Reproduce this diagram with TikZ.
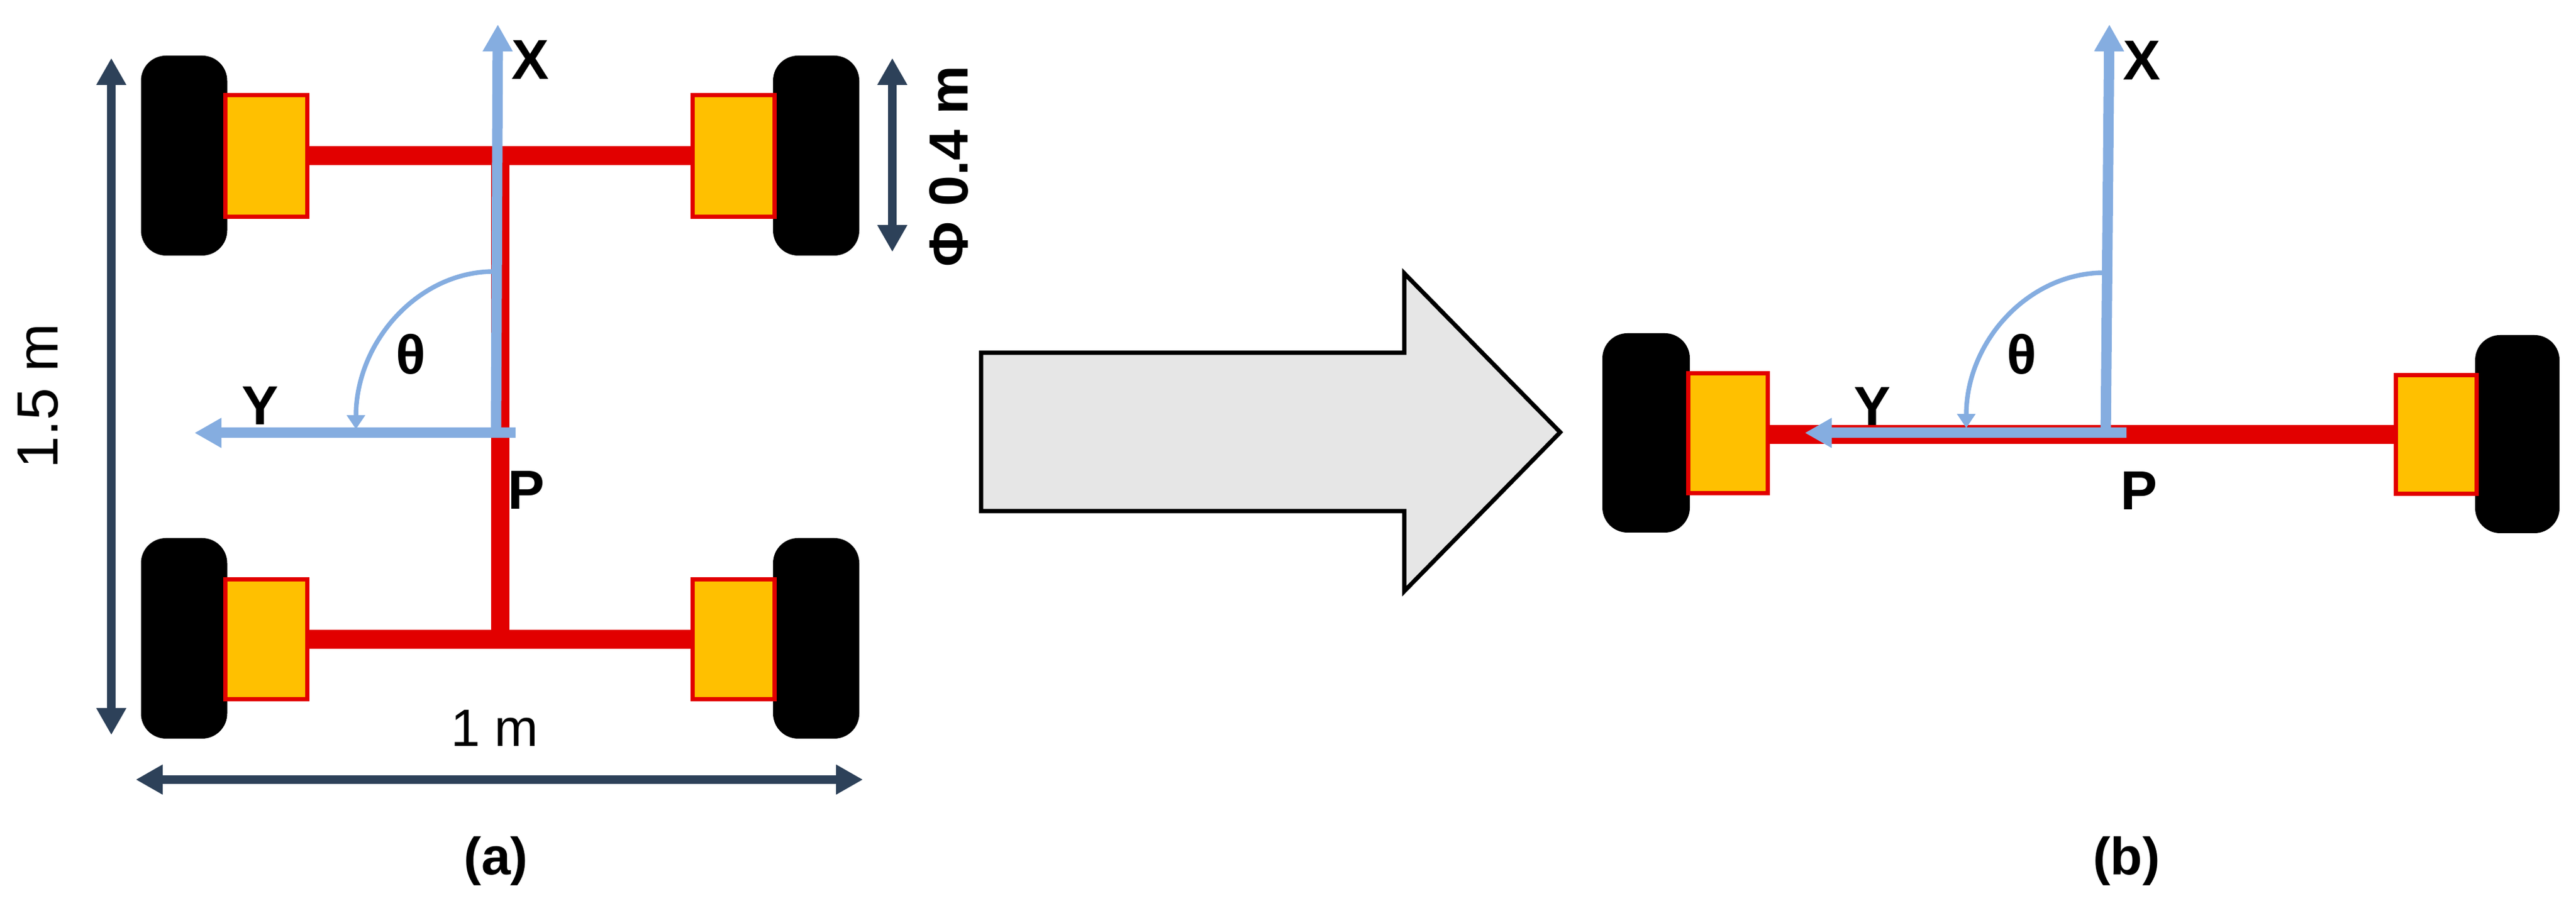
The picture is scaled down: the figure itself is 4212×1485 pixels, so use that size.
\documentclass[tikz,border=0pt]{standalone}
\usepackage{fontspec}
\setmainfont{Liberation Sans}
\usetikzlibrary{arrows.meta}
\definecolor{axlered}{HTML}{E20000}
\definecolor{motorgold}{HTML}{FFC000}
\definecolor{frameblue}{HTML}{85ADE0}
\definecolor{dimslate}{HTML}{2D4159}
\definecolor{biggrey}{HTML}{E6E6E6}
\tikzset{
  tyre/.style={fill=black,draw=none,rounded corners=4.1pt,inner sep=0pt,outer sep=0pt,minimum width=#1},
  tyre/.default=14.1pt,
  motor/.style={fill=motorgold,draw=axlered,line width=.7pt,inner sep=0pt,outer sep=0pt,minimum width=#1},
  motor/.default=13.4pt,
  axle/.style={draw=axlered,line width=3.1pt},
  stem/.style={draw=axlered,line width=3pt},
  frameaxis/.style={draw=frameblue,line width=1.7pt,-{Triangle[length=4.4pt,width=4.6pt]}},
  anglearc/.style={draw=frameblue,line width=.75pt,-{Triangle[length=2.3pt,width=2.9pt]}},
  dimline/.style={draw=dimslate,line width=1.45pt,{Triangle[length=4.4pt,width=4.6pt]}-{Triangle[length=4.4pt,width=4.6pt]}},
  boldlabel/.style={inner sep=0pt,outer sep=0pt,anchor=base,font=\fontsize{9}{10}\selectfont\bfseries},
  caption/.style={inner sep=0pt,outer sep=0pt,anchor=base,font=\fontsize{8.6}{10}\selectfont\bfseries},
  plainlabel/.style={inner sep=0pt,outer sep=0pt,anchor=base,font=\fontsize{9.5}{10}\selectfont},
  bigarrow/.style={draw=black,line width=.7pt,fill=biggrey,miter limit=10}
}
\begin{document}
\begin{tikzpicture}[x=0.1pt,y=-0.1pt]
\useasboundingbox (0,0) rectangle (4212,1485);

% ---------- panel (a) ----------
\node[tyre,minimum height=32.7pt] (wTL) at (301,254.5) {};
\node[tyre,minimum height=32.7pt] (wTR) at (1334.5,254.5) {};
\node[tyre,minimum height=32.8pt] (wBL) at (301,1044) {};
\node[tyre,minimum height=32.8pt] (wBR) at (1334.5,1044) {};
\node[motor,minimum height=19.9pt] (mTL) at (435.5,255) {};
\node[motor,minimum height=19.9pt] (mTR) at (1199.5,255) {};
\node[motor,minimum height=19.6pt] (mBL) at (435.5,1045.5) {};
\node[motor,minimum height=19.6pt] (mBR) at (1199.5,1045.5) {};
\draw[axle] (mTL.east) -- (mTR.west);
\draw[axle] (mBL.east) -- (mBR.west);
\coordinate (stemTop) at (818,254);
\coordinate (stemBot) at (818,1044);
\draw[stem] (stemTop) -- (stemBot);

\coordinate (aO) at (811,708);
\coordinate (aXtip) at (814,40);
\coordinate (aYstart) at (843,708);
\coordinate (aYtip) at (318,708);
\coordinate (aArcA) at (808,444);
\coordinate (aArcB) at (582,702);
\draw[frameaxis] (aO) -- (aXtip);
\draw[frameaxis] (aYstart) -- (aYtip);
\draw[anglearc] (aArcA) .. controls (684,444) and (582,559) .. (aArcB);

\coordinate (dVtop) at (182,95);
\coordinate (dVbot) at (182,1202);
\coordinate (dPhiTop) at (1459,95);
\coordinate (dPhiBot) at (1459,412);
\coordinate (dHleft) at (222,1275);
\coordinate (dHright) at (1411,1275);
\draw[dimline] (dVtop) -- (dVbot);
\draw[dimline] (dPhiTop) -- (dPhiBot);
\draw[dimline] (dHleft) -- (dHright);

\node[boldlabel,font=\fontsize{9.2}{10}\selectfont\bfseries] (aX) at (867,130) {X};
\node[boldlabel] (aY) at (426,695) {Y};
\node[boldlabel] (aTh) at (672,612) {θ};
\node[boldlabel] (aP) at (860,833) {P};
\node[boldlabel,rotate=90] (phi) at (1582,272) {Φ 0.4 m};
\node[plainlabel,rotate=90] (len) at (94,648) {1.5 m};
\node[plainlabel,font=\fontsize{8.6}{10}\selectfont] (wid) at (809,1221) {1 m};
\node[caption] (capA) at (811,1431) {(a)};

% ---------- big arrow ----------
\coordinate (bA1) at (1604,577);
\coordinate (bA2) at (2296,577);
\coordinate (bA3) at (2296,447);
\coordinate (bA4) at (2551,707);
\coordinate (bA5) at (2296,967);
\coordinate (bA6) at (2296,836);
\coordinate (bA7) at (1604,836);
\draw[bigarrow] (bA1) -- (bA2) -- (bA3) -- (bA4) -- (bA5) -- (bA6) -- (bA7) -- cycle;

% ---------- panel (b) ----------
\node[tyre=14.3pt,minimum height=32.6pt] (wL) at (2691.5,708) {};
\node[tyre=13.8pt,minimum height=32.4pt] (wR) at (4116,710) {};
\node[motor=13pt,minimum height=19.6pt] (mL) at (2825.5,708.5) {};
\node[motor=13.2pt,minimum height=19.4pt] (mR) at (3983.5,710.5) {};
\coordinate (axMid) at (3520,710.5);
\draw[axle] (mL.east |- axMid) -- (axMid);
\draw[axle] (axMid) -- (mR.west);

\coordinate (bO) at (3443,708);
\coordinate (bXtip) at (3449,40);
\coordinate (bYstart) at (3477,708);
\coordinate (bYtip) at (2951,708);
\coordinate (bArcA) at (3441,446);
\coordinate (bArcB) at (3215,700);
\draw[frameaxis] (bO) -- (bXtip);
\draw[frameaxis] (bYstart) -- (bYtip);
\draw[anglearc] (bArcA) .. controls (3317,446) and (3215,558) .. (bArcB);

\node[boldlabel,font=\fontsize{9.2}{10}\selectfont\bfseries] (bX) at (3502,131) {X};
\node[boldlabel] (bY) at (3061,696) {Y};
\node[boldlabel] (bTh) at (3306,612) {θ};
\node[boldlabel] (bP) at (3497,834) {P};
\node[caption] (capB) at (3477,1431) {(b)};
\end{tikzpicture}
\end{document}
